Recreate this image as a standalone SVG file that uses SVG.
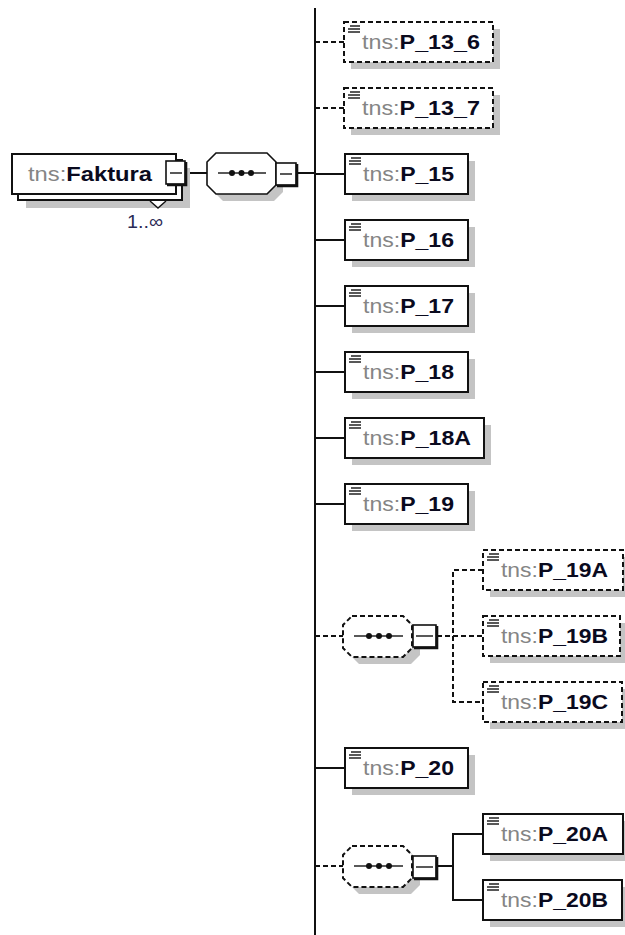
<svg xmlns="http://www.w3.org/2000/svg" width="625" height="935" viewBox="0 0 625 935">
<style>
.bg{fill:#fff}
.sh{fill:#c4c4c4}
.box{fill:#fff;stroke:#111;stroke-width:2}
.dbox{fill:#fff;stroke:#111;stroke-width:2;stroke-dasharray:5 3}
.ln{fill:none;stroke:#111;stroke-width:2}
.dln{fill:none;stroke:#111;stroke-width:2;stroke-dasharray:5 3}
.ic{stroke:#222;stroke-width:1.5}
.t{font-family:"Liberation Sans",Arial,sans-serif;font-size:20px}
.ns{fill:#858585}
.nm{fill:#0a0a1e;font-weight:bold}
.mb{fill:#fff;stroke:#111;stroke-width:1.6}
.mbs{fill:none;stroke:#111;stroke-width:2.6}
.dot{fill:#111}
</style>
<rect class="bg" x="0" y="0" width="625" height="935"/>

<g id="connectors">
  <line class="ln" x1="315" y1="8" x2="315" y2="935"/>
  <line class="ln" x1="186" y1="173" x2="207" y2="173"/>
  <line class="ln" x1="297" y1="173" x2="315" y2="173"/>
  <line class="dln" x1="315" y1="42" x2="344" y2="42"/>
  <line class="dln" x1="315" y1="108" x2="344" y2="108"/>
  <line class="ln" x1="315" y1="174" x2="345" y2="174"/>
  <line class="ln" x1="315" y1="240" x2="345" y2="240"/>
  <line class="ln" x1="315" y1="306" x2="345" y2="306"/>
  <line class="ln" x1="315" y1="372" x2="345" y2="372"/>
  <line class="ln" x1="315" y1="438" x2="345" y2="438"/>
  <line class="ln" x1="315" y1="504" x2="345" y2="504"/>
  <line class="dln" x1="315" y1="636" x2="343" y2="636"/>
  <line class="ln" x1="315" y1="768" x2="345" y2="768"/>
  <line class="dln" x1="315" y1="866" x2="343" y2="866"/>
  <path class="dln" d="M437,636 H483 M483,570 H453 V702 H483"/>
  <path class="ln" d="M437,866 H453 M483,834 H453 V900 H483"/>
</g>

<g id="Faktura">
  <rect class="sh" x="26" y="168" width="164" height="40"/>
  <rect class="box" x="18" y="160" width="164" height="40"/>
  <rect class="box" x="12" y="154" width="164" height="40"/>
  <path d="M150,201 L158,208 L166,201" fill="#fff" stroke="#111" stroke-width="1.4"/>
  <text class="t" x="28" y="181" textLength="124" lengthAdjust="spacingAndGlyphs"><tspan class="ns">tns:</tspan><tspan class="nm">Faktura</tspan></text>
  <rect class="mb" x="166" y="161" width="19" height="23"/>
  <path class="mbs" d="M186,162 V185 H167"/>
  <line class="ic" x1="170" y1="173" x2="182" y2="173"/>
  <text x="145" y="228" text-anchor="middle" font-family="'Liberation Sans',Arial,sans-serif" font-size="19" fill="#2a2a55" textLength="36" lengthAdjust="spacingAndGlyphs">1..∞</text>
</g>

<g id="sequence">
  <polygon class="sh" points="223,160 274,160 283,169 283,192 274,201 223,201 214,192 214,169"/>
  <polygon fill="#fff" stroke="#111" stroke-width="1.6" points="216,153 267,153 276,162 276,185 267,194 216,194 207,185 207,162"/>
  <line class="ic" x1="218" y1="173" x2="266" y2="173" stroke-width="1.6"/>
  <circle class="dot" cx="232" cy="173" r="3"/>
  <circle class="dot" cx="241.5" cy="173" r="3"/>
  <circle class="dot" cx="251" cy="173" r="3"/>
  <rect class="mb" x="276" y="163" width="20" height="22"/>
  <path class="mbs" d="M297,164 V186 H277"/>
  <line class="ic" x1="280" y1="174" x2="292" y2="174"/>
</g>

<g id="P_13_6">
  <rect class="sh" x="351" y="29" width="149" height="40"/>
  <rect class="dbox" x="344" y="22" width="149" height="40"/>
  <path class="ic" d="M350,26 H360 M348,29 H360 M348,32 H360"/>
  <text class="t" x="362" y="49" textLength="118" lengthAdjust="spacingAndGlyphs"><tspan class="ns">tns:</tspan><tspan class="nm">P_13_6</tspan></text>
</g>
<g id="P_13_7">
  <rect class="sh" x="351" y="95" width="149" height="40"/>
  <rect class="dbox" x="344" y="88" width="149" height="40"/>
  <path class="ic" d="M350,92 H360 M348,95 H360 M348,98 H360"/>
  <text class="t" x="362" y="115" textLength="118" lengthAdjust="spacingAndGlyphs"><tspan class="ns">tns:</tspan><tspan class="nm">P_13_7</tspan></text>
</g>
<g id="P_15">
  <rect class="sh" x="352" y="161" width="123" height="40"/>
  <rect class="box" x="345" y="154" width="123" height="40"/>
  <path class="ic" d="M351,158 H361 M349,161 H361 M349,164 H361"/>
  <text class="t" x="363" y="181" textLength="91" lengthAdjust="spacingAndGlyphs"><tspan class="ns">tns:</tspan><tspan class="nm">P_15</tspan></text>
</g>
<g id="P_16">
  <rect class="sh" x="352" y="227" width="123" height="40"/>
  <rect class="box" x="345" y="220" width="123" height="40"/>
  <path class="ic" d="M351,224 H361 M349,227 H361 M349,230 H361"/>
  <text class="t" x="363" y="247" textLength="91" lengthAdjust="spacingAndGlyphs"><tspan class="ns">tns:</tspan><tspan class="nm">P_16</tspan></text>
</g>
<g id="P_17">
  <rect class="sh" x="352" y="293" width="123" height="40"/>
  <rect class="box" x="345" y="286" width="123" height="40"/>
  <path class="ic" d="M351,290 H361 M349,293 H361 M349,296 H361"/>
  <text class="t" x="363" y="313" textLength="91" lengthAdjust="spacingAndGlyphs"><tspan class="ns">tns:</tspan><tspan class="nm">P_17</tspan></text>
</g>
<g id="P_18">
  <rect class="sh" x="352" y="359" width="123" height="40"/>
  <rect class="box" x="345" y="352" width="123" height="40"/>
  <path class="ic" d="M351,356 H361 M349,359 H361 M349,362 H361"/>
  <text class="t" x="363" y="379" textLength="91" lengthAdjust="spacingAndGlyphs"><tspan class="ns">tns:</tspan><tspan class="nm">P_18</tspan></text>
</g>
<g id="P_18A">
  <rect class="sh" x="352" y="425" width="139" height="40"/>
  <rect class="box" x="345" y="418" width="139" height="40"/>
  <path class="ic" d="M351,422 H361 M349,425 H361 M349,428 H361"/>
  <text class="t" x="363" y="445" textLength="108" lengthAdjust="spacingAndGlyphs"><tspan class="ns">tns:</tspan><tspan class="nm">P_18A</tspan></text>
</g>
<g id="P_19">
  <rect class="sh" x="352" y="491" width="123" height="40"/>
  <rect class="box" x="345" y="484" width="123" height="40"/>
  <path class="ic" d="M351,488 H361 M349,491 H361 M349,494 H361"/>
  <text class="t" x="363" y="511" textLength="91" lengthAdjust="spacingAndGlyphs"><tspan class="ns">tns:</tspan><tspan class="nm">P_19</tspan></text>
</g>

<g id="choice19">
  <polygon class="sh" points="359,623 411,623 420,632 420,655 411,664 359,664 350,655 350,632"/>
  <polygon fill="#fff" stroke="#111" stroke-width="2" stroke-dasharray="5 3" points="352,616 403,616 412,625 412,648 403,657 352,657 343,648 343,625"/>
  <line class="ic" x1="354" y1="636" x2="403" y2="636" stroke-width="1.6"/>
  <circle class="dot" cx="369" cy="636" r="3"/>
  <circle class="dot" cx="379" cy="636" r="3"/>
  <circle class="dot" cx="389" cy="636" r="3"/>
  <rect class="mb" x="413" y="625" width="23" height="22"/>
  <path class="mbs" d="M437,626 V648 H414"/>
  <line class="ic" x1="416" y1="636" x2="433" y2="636"/>
</g>
<g id="P_19A">
  <rect class="sh" x="490" y="557" width="140" height="40"/>
  <rect class="dbox" x="483" y="550" width="140" height="40"/>
  <path class="ic" d="M489,554 H499 M487,557 H499 M487,560 H499"/>
  <text class="t" x="501" y="577" textLength="107" lengthAdjust="spacingAndGlyphs"><tspan class="ns">tns:</tspan><tspan class="nm">P_19A</tspan></text>
</g>
<g id="P_19B">
  <rect class="sh" x="490" y="623" width="137" height="40"/>
  <rect class="dbox" x="483" y="616" width="137" height="40"/>
  <path class="ic" d="M489,620 H499 M487,623 H499 M487,626 H499"/>
  <text class="t" x="501" y="643" textLength="107" lengthAdjust="spacingAndGlyphs"><tspan class="ns">tns:</tspan><tspan class="nm">P_19B</tspan></text>
</g>
<g id="P_19C">
  <rect class="sh" x="490" y="689" width="139" height="40"/>
  <rect class="dbox" x="483" y="682" width="139" height="40"/>
  <path class="ic" d="M489,686 H499 M487,689 H499 M487,692 H499"/>
  <text class="t" x="501" y="709" textLength="107" lengthAdjust="spacingAndGlyphs"><tspan class="ns">tns:</tspan><tspan class="nm">P_19C</tspan></text>
</g>

<g id="P_20">
  <rect class="sh" x="352" y="755" width="123" height="40"/>
  <rect class="box" x="345" y="748" width="123" height="40"/>
  <path class="ic" d="M351,752 H361 M349,755 H361 M349,758 H361"/>
  <text class="t" x="363" y="775" textLength="91" lengthAdjust="spacingAndGlyphs"><tspan class="ns">tns:</tspan><tspan class="nm">P_20</tspan></text>
</g>

<g id="sequence20">
  <polygon class="sh" points="359,853 411,853 420,862 420,885 411,894 359,894 350,885 350,862"/>
  <polygon fill="#fff" stroke="#111" stroke-width="2" stroke-dasharray="5 3" points="352,846 403,846 412,855 412,878 403,887 352,887 343,878 343,855"/>
  <line class="ic" x1="354" y1="866" x2="403" y2="866" stroke-width="1.6"/>
  <circle class="dot" cx="369" cy="866" r="3"/>
  <circle class="dot" cx="379" cy="866" r="3"/>
  <circle class="dot" cx="389" cy="866" r="3"/>
  <rect class="mb" x="413" y="856" width="23" height="22"/>
  <path class="mbs" d="M437,857 V879 H414"/>
  <line class="ic" x1="416" y1="867" x2="433" y2="867"/>
</g>
<g id="P_20A">
  <rect class="sh" x="490" y="821" width="140" height="40"/>
  <rect class="box" x="483" y="814" width="140" height="40"/>
  <path class="ic" d="M489,818 H499 M487,821 H499 M487,824 H499"/>
  <text class="t" x="501" y="841" textLength="107" lengthAdjust="spacingAndGlyphs"><tspan class="ns">tns:</tspan><tspan class="nm">P_20A</tspan></text>
</g>
<g id="P_20B">
  <rect class="sh" x="490" y="887" width="139" height="40"/>
  <rect class="box" x="483" y="880" width="139" height="40"/>
  <path class="ic" d="M489,884 H499 M487,887 H499 M487,890 H499"/>
  <text class="t" x="501" y="907" textLength="107" lengthAdjust="spacingAndGlyphs"><tspan class="ns">tns:</tspan><tspan class="nm">P_20B</tspan></text>
</g>
</svg>
